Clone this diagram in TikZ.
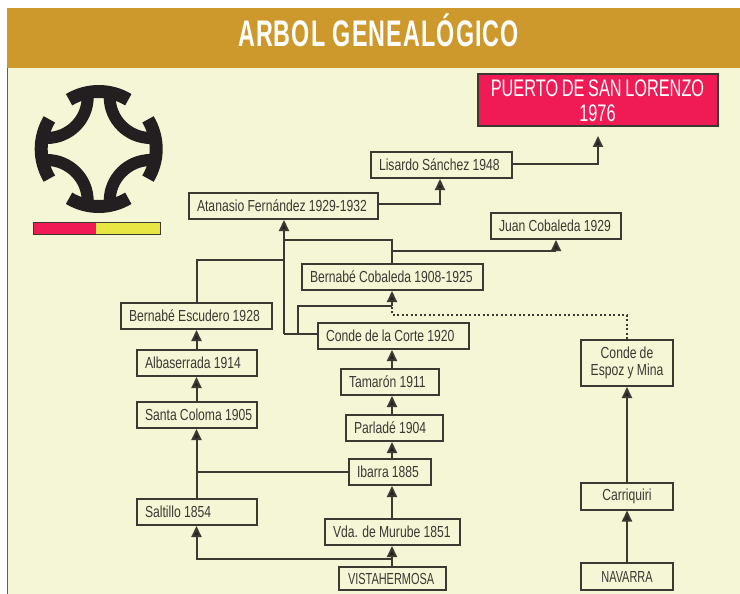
\documentclass[tikz,border=0pt]{standalone}
\usepackage{fontspec}
\setmainfont[FakeStretch=0.76,WordSpace=0.95]{Liberation Sans}
\newfontfamily\narrowfont[FakeStretch=0.68,WordSpace=0.8]{Liberation Sans}
\newfontfamily\titlefont[FakeStretch=0.63,LetterSpace=3]{Liberation Sans}
\usetikzlibrary{arrows.meta}
\definecolor{gold}{HTML}{CE992C}
\definecolor{cream}{HTML}{F5F6D6}
\definecolor{crimson}{HTML}{F01A55}
\definecolor{lemon}{HTML}{E8E645}
\definecolor{ink}{HTML}{3A3932}
\definecolor{tar}{HTML}{231F20}
\tikzset{
	famnode/.style={draw=ink,line width=2pt,fill=cream,text=ink,inner xsep=2pt,inner ysep=0pt,minimum height=26pt,anchor=west,align=flush center,font=\fontsize{16}{17}\selectfont},
	famleft/.style={famnode,align=flush left,execute at begin node={\hspace*{6pt}}},
	famline/.style={draw=ink,line width=2pt},
	famarrow/.style={famline,-{Triangle[width=10pt,length=11pt,fill=tar]}}
}
\begin{document}
\begin{tikzpicture}[x=1pt,y=-1pt]
	\useasboundingbox (0,0) rectangle (740,594);
	\fill[white] (0,0) rectangle (740,594);
	\fill[cream] (7,68) rectangle (740,594);
	\draw[ink!80,line width=1.2pt] (7.5,8) -- (7.5,594);

	\node[fill=gold,minimum width=733pt,minimum height=60pt,inner sep=0pt] at (373.5,38) (header) {};
	\node[text=white,anchor=base,font=\titlefont\fontsize{37}{38}\selectfont\bfseries] at (378.5,47) (title) {ARBOL GENEALÓGICO};

	% emblem
	\begin{scope}[shift={(98.7,149)},x=1pt,y=1pt]
		\foreach \a in {0,90,180,270}
			{   \draw[tar,line width=13pt,rotate=\a] (59:57.5) arc (59:121:57.5);
				\draw[tar,line width=12pt,rotate=\a] (11,52) arc (180:270:41);
			}
	\end{scope}
	\fill[crimson] (33,222.5) rectangle (96,234);
	\fill[lemon] (96,222.5) rectangle (160,234);
	\draw[ink,line width=1pt] (33,222.5) rectangle (160,234);

	% left branch
	\node[famleft,text width=147pt] at (120,316) (escudero) {Bernabé Escudero 1928};
	\node[famleft,text width=116pt] at (136,363) (albaserrada) {Albaserrada 1914};
	\node[famleft,text width=116pt] at (136,415) (coloma) {Santa Coloma 1905};
	\node[famleft,text width=116pt] at (136,512) (saltillo) {Saltillo 1854};

	% middle branch
	\node[famleft,text width=185pt] at (188,206) (atanasio) {Atanasio Fernández 1929-1932};
	\node[famleft,text width=136.5pt] at (370,165) (lisardo) {Lisardo Sánchez 1948};
	\node[famleft,text width=126pt] at (490,226) (juan) {Juan Cobaleda 1929};
	\node[famleft,text width=177pt] at (301,277) (cobaleda) {Bernabé Cobaleda 1908-1925};
	\node[famleft,text width=147pt] at (317,336) (corte) {Conde de la Corte 1920};
	\node[famleft,text width=94pt] at (340,382) (tamaron) {Tamarón 1911};
	\node[famleft,text width=93pt] at (345,428) (parlade) {Parladé 1904};
	\node[famleft,text width=78pt] at (348,472) (ibarra) {Ibarra 1885};
	\node[famleft,text width=131pt] at (324,532) (murube) {Vda. de Murube 1851};
	\node[famleft,text width=103pt,minimum height=23pt] at (338,578.5) (vista) {\hspace*{1pt}\scalebox{0.9}[1]{VISTAHERMOSA}};

	% right branch
	\node[famnode,text width=88pt,minimum height=46pt] at (580,363) (espoz) {Conde de\\Espoz y Mina};
	\node[famnode,text width=88pt,minimum height=27pt] at (580,496) (carriquiri) {Carriquiri};
	\node[famnode,text width=88pt,minimum height=27pt] at (580,576.5) (navarra) {\scalebox{0.9}[1]{NAVARRA}};

	\node[draw=ink,line width=2pt,fill=crimson,text=white,minimum width=240pt,minimum height=52pt,inner sep=0pt,align=center,font=\narrowfont\fontsize{24}{25}\selectfont] at (597.5,100.5) (puerto) {PUERTO DE SAN LORENZO\\1976};

	\coordinate (puertotip) at (598,136);
	\coordinate (lisardotip) at (440,179);
	\coordinate (juantip) at (556,240);
	\coordinate (juanfork) at (392,250.5);
	\coordinate (cobtop) at (392,239.5);
	\coordinate (atanasiotip) at (284,220);
	\coordinate (escfork) at (284,260);
	\coordinate (cortefork) at (284,334);
	\coordinate (cortemid) at (298,334);
	\coordinate (cobjoin) at (392,306);
	\coordinate (dotstart) at (392,315);
	\coordinate (murubefork) at (392,559);

	\draw[famarrow] ([yshift=1pt]lisardo.east) -| (puertotip);
	\draw[famarrow] ([yshift=2.5pt]atanasio.east) -| (lisardotip);
	\draw[famline] (cobaleda.north -| cobjoin) -- (cobtop) -- (cobtop -| atanasiotip);
	\draw[famarrow] (juanfork) -| (juantip);
	\draw[famarrow] (cortefork) -- (atanasiotip);
	\draw[famline] (corte.west |- cortefork) -- (cortefork);
	\draw[famline] (escudero.north) |- (escfork);
	\draw[famline] (cortemid) |- (cobjoin);
	\draw[famarrow] (cobjoin) -- (cobjoin |- cobaleda.south);
	\draw[famline,dash pattern=on 2pt off 2.5pt] (espoz.north) |- (dotstart) -- (cobjoin);

	\draw[famarrow] (albaserrada.north -| escudero.north) -- (escudero.south);
	\draw[famarrow] (coloma.north -| escudero.north) -- (albaserrada.south -| escudero.north);
	\draw[famarrow] (saltillo.north -| escudero.north) -- (coloma.south -| escudero.north);
	\draw[famline] (ibarra.west) -- (ibarra.west -| escudero.north);

	\draw[famarrow] (tamaron.north -| cobjoin) -- (corte.south -| cobjoin);
	\draw[famarrow] (parlade.north -| cobjoin) -- (tamaron.south -| cobjoin);
	\draw[famarrow] (ibarra.north -| cobjoin) -- (parlade.south -| cobjoin);
	\draw[famarrow] (murube.north -| cobjoin) -- (ibarra.south -| cobjoin);
	\draw[famarrow] (vista.north -| cobjoin) -- (murube.south -| cobjoin);
	\draw[famarrow] (murubefork) -| (saltillo.south -| escudero.north);

	\draw[famarrow] (navarra.north) -- (carriquiri.south);
	\draw[famarrow] (carriquiri.north) -- (espoz.south);
\end{tikzpicture}
\end{document}
